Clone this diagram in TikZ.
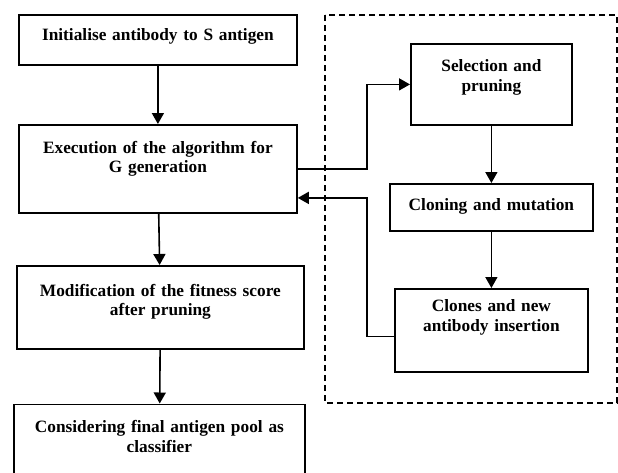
\documentclass[tikz,border=0pt]{standalone}
\usepackage{fontspec}
\setmainfont{Liberation Serif}
\usetikzlibrary{arrows.meta,positioning}

\begin{document}
\begin{tikzpicture}[
  x=1pt, y=-1pt,
  every node/.style={font=\fontsize{17.3}{19.5}\selectfont\bfseries},
  box/.style={draw, line width=1.8pt, align=center, inner xsep=4pt, inner ysep=0pt, anchor=north west},
  flow/.style={draw, ->, >={Triangle[length=11pt,width=12pt]}, line width=1.6pt},
  group/.style={draw, line width=1.6pt, dash pattern=on 6pt off 4pt}
]
\useasboundingbox (0,0) rectangle (618,472);
\clip (0,0) rectangle (618,472);

% main column
\node[box, text width=270pt, text height=25.3pt, text depth=24.7pt] (init) at (18,14)
  {Initialise antibody to S antigen};
\node[box, text width=270pt, text height=28.3pt, text depth=59.7pt] (exe) at (18,124)
  {Execution of the algorithm for\\G generation};
\node[box, text width=279pt, text height=30.5pt, text depth=52.5pt] (mod) at (16,265)
  {Modification of the fitness score\\after pruning};
\node[box, text width=283pt, text height=28.2pt, text depth=58pt] (cons) at (13,403.5)
  {Considering final antigen pool as\\classifier};

% inner loop
\draw[group] (325,15) rectangle (617,403);
\node[box, text width=153pt, text height=28pt, text depth=53pt] (sel) at (410,43)
  {Selection and\\pruning};
\node[box, text width=195pt, text height=27pt, text depth=20pt] (clo) at (389,183)
  {Cloning and mutation};
\node[box, text width=185pt, text height=22.7pt, text depth=60.3pt] (ins) at (394,288)
  {Clones and new\\antibody insertion};

\coordinate (bus) at (367,0);
\coordinate (back) at ([yshift=-29pt]exe.east);

\draw[flow] (init) -- (exe);
\draw[flow] (exe) -- (mod);
\draw[flow] (mod) -- (cons);
\draw[flow] (sel) -- (clo);
\draw[flow] (clo) -- (ins);
\draw[flow] (exe.east) -| (bus |- sel.west) -- (sel.west);
\draw[flow] ([yshift=-6pt]ins.west) -| (bus |- back) -- (back);
\end{tikzpicture}
\end{document}
